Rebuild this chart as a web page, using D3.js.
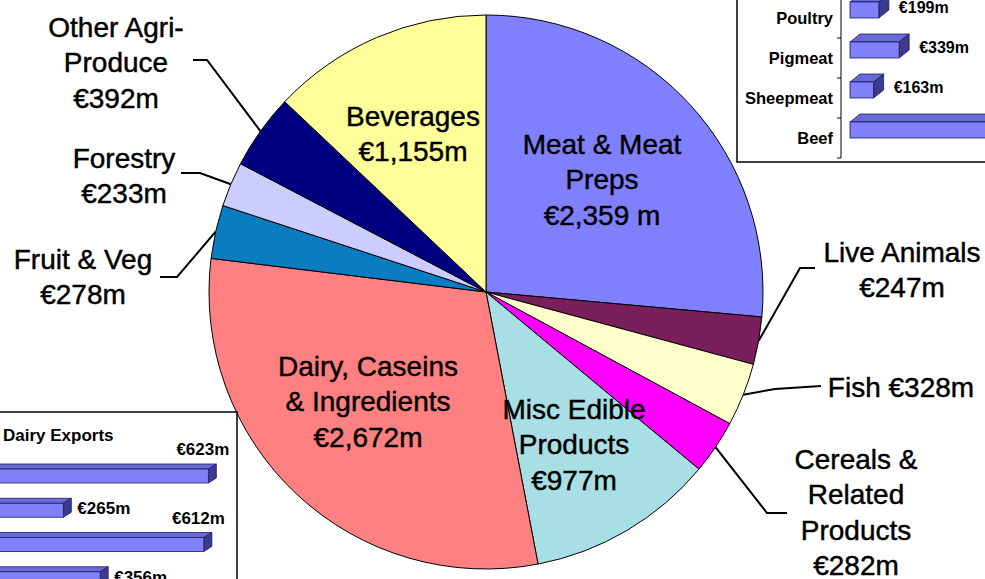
<!DOCTYPE html>
<html>
<head>
<meta charset="utf-8">
<script src="https://cdnjs.cloudflare.com/ajax/libs/d3/7.8.5/d3.min.js"></script>
<style>
    body { margin: 0; background: #fff; }
    svg text { font-family: "Liberation Sans", Arial, sans-serif; fill: #000; }
    svg text.pie-label { stroke: #000; stroke-width: 0.45px; }
</style>
</head>
<body>
<div id="chart-area"></div>
<script>
// Agri-food exports, pie slices clockwise from 12 o'clock
var categories = ["Meat & Meat Preps", "Live Animals", "Fish", "Cereals & Related Products",
    "Misc Edible Products", "Dairy, Caseins & Ingredients", "Fruit & Veg", "Forestry",
    "Other Agri-Produce", "Beverages"];
var values = [2359, 247, 328, 282, 977, 2672, 278, 233, 392, 1155];
var nameLines = [["Meat & Meat", "Preps"], ["Live Animals"], ["Fish"], ["Cereals &", "Related", "Products"],
    ["Misc Edible", "Products"], ["Dairy, Caseins", "& Ingredients"], ["Fruit & Veg"], ["Forestry"],
    ["Other Agri-", "Produce"], ["Beverages"]];
var valueLabels = ["€2,359 m", "€247m", "€328m", "€282m", "€977m", "€2,672m", "€278m", "€233m", "€392m", "€1,155m"];

// Meat exports inset (beef bar runs off the picture, value estimated)
var meatCategories = ["Poultry", "Pigmeat", "Sheepmeat", "Beef"];
var meatValues = [199, 339, 163, 1658];
var meatLabels = ["€199m", "€339m", "€163m", "€1,658m"];

// Dairy exports inset (category names are cut off in the picture)
var dairyValues = [623, 265, 612, 356];
var dairyLabels = ["€623m", "€265m", "€612m", "€356m"];

var sliceColors = ["#8080ff", "#7b1f5c", "#ffffcc", "#ff00ff", "#a8dfe4",
    "#ff8080", "#0a7cc0", "#ccccff", "#000080", "#ffff99"];

var width = 985, height = 579;
var cx = 486, cy = 292, radius = 277;

var svg = d3.select("#chart-area")
    .append("svg")
    .attr("width", width)
    .attr("height", height);

// ---------- Pie ----------
var color = d3.scaleOrdinal().domain(categories).range(sliceColors);
var pie = d3.pie().sort(null).value(function(d){ return d.value; });
var arc = d3.arc().innerRadius(0).outerRadius(radius);
var edge = d3.arc().innerRadius(radius).outerRadius(radius);

var pieData = pie(categories.map(function(c, i){
    return { name: c, value: values[i], lines: nameLines[i].concat([valueLabels[i]]) };
}));
// "Fish €328m" sits on one line
pieData[2].data.lines = ["Fish " + valueLabels[2]];

var pg = svg.append("g")
    .attr("transform", "translate(" + cx + "," + cy + ")");

pg.selectAll("path.slice")
    .data(pieData)
    .enter().append("path")
    .attr("class", "slice")
    .attr("d", arc)
    .attr("fill", function(d){ return color(d.data.name); })
    .attr("stroke", "#000")
    .attr("stroke-width", 1);

// Label placement (first baseline, centre x) and leader elbows
var lineGap = 35.3;
var labelLayout = {
    "Meat & Meat Preps": { x: 602, y: 154 },
    "Beverages": { x: 413, y: 126 },
    "Dairy, Caseins & Ingredients": { x: 368, y: 376 },
    "Misc Edible Products": { x: 574, y: 419 },
    "Other Agri-Produce": { x: 116, y: 37, leader: [[193, 60], [207, 60]] },
    "Forestry": { x: 124, y: 168, leader: [[181, 173], [200, 173]] },
    "Fruit & Veg": { x: 83, y: 269, leader: [[160, 277], [177, 277]] },
    "Live Animals": { x: 902, y: 262, leader: [[815, 268], [800, 268]] },
    "Fish": { x: 901, y: 397, leader: [[821, 386], [775, 389]] },
    "Cereals & Related Products": { x: 856, y: 469, leader: [[787, 513], [767, 513]] }
};

var leaderLine = d3.line();
svg.selectAll("path.leader")
    .data(pieData.filter(function(d){ return labelLayout[d.data.name].leader; }))
    .enter().append("path")
    .attr("class", "leader")
    .attr("fill", "none")
    .attr("stroke", "#000")
    .attr("stroke-width", 2)
    .attr("d", function(d){
        var p = edge.centroid(d);
        var pts = labelLayout[d.data.name].leader.concat([[cx + p[0], cy + p[1]]]);
        return leaderLine(pts);
    });

var labels = svg.selectAll("text.pie-label")
    .data(pieData)
    .enter().append("text")
    .attr("class", "pie-label")
    .attr("font-size", "28px")
    .attr("text-anchor", "middle");

labels.selectAll("tspan")
    .data(function(d){
        var l = labelLayout[d.data.name];
        return d.data.lines.map(function(t, k){ return { t: t, x: l.x, y: l.y + k * lineGap }; });
    })
    .enter().append("tspan")
    .attr("x", function(d){ return d.x; })
    .attr("y", function(d){ return d.y; })
    .text(function(d){ return d.t; });

// ---------- 3D bar helper ----------
function bars3d(g, vals, x, yFront, h, dx, dy) {
    var rows = g.selectAll("g.bar")
        .data(vals)
        .enter().append("g")
        .attr("class", "bar");
    // top face
    rows.append("path")
        .attr("fill", "#6a6ad6")
        .attr("stroke", "#1a1a66")
        .attr("stroke-width", 0.8)
        .attr("d", function(d, i){
            var x0 = x(0), x1 = x(d), y = yFront(i);
            return "M" + x0 + "," + y + "L" + (x0 + dx) + "," + (y - dy) + "L" + (x1 + dx) + "," + (y - dy) + "L" + x1 + "," + y + "Z";
        });
    // side face
    rows.append("path")
        .attr("fill", "#3b3b8e")
        .attr("stroke", "#1a1a66")
        .attr("stroke-width", 0.8)
        .attr("d", function(d, i){
            var x1 = x(d), y = yFront(i);
            return "M" + x1 + "," + y + "L" + (x1 + dx) + "," + (y - dy) + "L" + (x1 + dx) + "," + (y - dy + h) + "L" + x1 + "," + (y + h) + "Z";
        });
    // front face
    rows.append("rect")
        .attr("x", x(0))
        .attr("y", function(d, i){ return yFront(i); })
        .attr("width", function(d){ return x(d) - x(0); })
        .attr("height", h)
        .attr("fill", "#8080f8")
        .attr("stroke", "#1a1a66")
        .attr("stroke-width", 0.8);
}

// ---------- Meat inset (top right) ----------
var mg = svg.append("g");
mg.append("rect")
    .attr("x", 737).attr("y", -10)
    .attr("width", 300).attr("height", 172)
    .attr("fill", "#fff")
    .attr("stroke", "#000")
    .attr("stroke-width", 1.5);

var mx = d3.scaleLinear().domain([0, 1000]).range([850, 995]);
var my = d3.scaleBand().domain(meatCategories).range([-2, 158]);

mg.append("line")
    .attr("x1", 841).attr("x2", 841)
    .attr("y1", -10).attr("y2", my.range()[1])
    .attr("stroke", "#000");
mg.selectAll("line.tick")
    .data(meatCategories)
    .enter().append("line")
    .attr("class", "tick")
    .attr("x1", 837).attr("x2", 841)
    .attr("y1", function(d){ return my(d) + my.bandwidth(); })
    .attr("y2", function(d){ return my(d) + my.bandwidth(); })
    .attr("stroke", "#000");

mg.selectAll("text.cat")
    .data(meatCategories)
    .enter().append("text")
    .attr("class", "cat")
    .attr("x", 833)
    .attr("y", function(d){ return my(d) + my.bandwidth() / 2 + 6; })
    .attr("text-anchor", "end")
    .attr("font-size", "16.5px")
    .attr("font-weight", "bold")
    .text(function(d){ return d; });

var meatFront = function(i){ return my(meatCategories[i]) + 4; };
bars3d(mg, meatValues, mx, meatFront, 16, 10, 8);

// value labels (the beef one falls outside the picture, as in the original)
mg.selectAll("text.val")
    .data(meatValues.filter(function(d){ return mx(d) + 20 < width; }))
    .enter().append("text")
    .attr("class", "val")
    .attr("x", function(d){ return mx(d) + 20; })
    .attr("y", function(d, i){ return meatFront(i) + 11; })
    .attr("font-size", "16px")
    .attr("font-weight", "bold")
    .text(function(d, i){ return meatLabels[i]; });

// ---------- Dairy inset (bottom left) ----------
var dg = svg.append("g");
var boxRight = 237;
dg.append("rect")
    .attr("x", -10).attr("y", 412)
    .attr("width", boxRight + 10).attr("height", 200)
    .attr("fill", "#fff")
    .attr("stroke", "#000")
    .attr("stroke-width", 1.5);

dg.append("text")
    .attr("x", 3).attr("y", 441)
    .attr("font-size", "17px")
    .attr("font-weight", "bold")
    .text("Dairy Exports");

var dx = d3.scaleLinear().domain([0, 1000]).range([-44, 361]);
var dy = d3.scaleBand().domain(d3.range(dairyValues.length)).range([462, 599]);
var dairyFront = function(i){ return dy(i) + 7; };
bars3d(dg, dairyValues, dx, dairyFront, 14, 8, 5);

// labels that would cross the frame are lifted above the bar
dg.selectAll("text.val")
    .data(dairyValues)
    .enter().append("text")
    .attr("class", "val")
    .attr("font-size", "17px")
    .attr("font-weight", "bold")
    .each(function(d, i){
        var t = d3.select(this).text(dairyLabels[i]);
        var w = this.getComputedTextLength();
        var x1 = dx(d);
        if (x1 + 14 + w > boxRight - 4) {
            t.attr("text-anchor", "end")
                .attr("x", Math.min(x1 + 21, boxRight - 6))
                .attr("y", dairyFront(i) - 14);
        } else {
            t.attr("x", x1 + 14)
                .attr("y", dairyFront(i) + 11);
        }
    });
</script>
</body>
</html>
